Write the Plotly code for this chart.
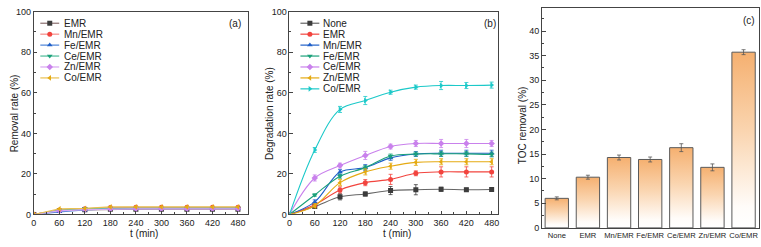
import plotly.graph_objects as go

# ---------------- data ----------------
t = [0, 60, 120, 180, 240, 300, 360, 420, 480]
xticks = [0, 60, 120, 180, 240, 300, 360, 420, 480]

# panel (a) removal rate (%)
a_names = ["EMR", "Mn/EMR", "Fe/EMR", "Ce/EMR", "Zn/EMR", "Co/EMR"]
a_emr = [0, 1.9, 2.3, 2.6, 2.6, 2.6, 2.6, 2.6, 2.6]
a_mn = [0, 2.1, 2.8, 3.4, 3.5, 3.5, 3.5, 3.5, 3.5]
a_fe = [0, 1.3, 2.2, 2.8, 2.9, 3.0, 3.0, 3.0, 3.0]
a_ce = [0, 2.0, 2.9, 3.2, 3.2, 3.2, 3.2, 3.2, 3.2]
a_zn = [0, 1.8, 2.4, 2.7, 2.8, 2.8, 2.8, 2.8, 2.8]
a_co = [0, 2.8, 3.0, 3.7, 3.7, 3.7, 3.7, 3.7, 3.7]

# panel (b) degradation rate (%)
b_names = ["None", "EMR", "Mn/EMR", "Fe/EMR", "Ce/EMR", "Zn/EMR", "Co/EMR"]
b_none = [0, 3.9, 8.7, 10.1, 11.8, 12.2, 12.4, 12.2, 12.3]
b_emr = [0, 4.8, 12.1, 15.7, 17.3, 20.3, 21.0, 21.0, 21.0]
b_mn = [0, 6.2, 20.9, 23.1, 27.9, 29.8, 30.2, 30.2, 30.2]
b_fe = [0, 9.6, 18.9, 23.1, 28.8, 29.8, 29.9, 29.9, 29.6]
b_ce = [0, 18.0, 24.1, 29.1, 33.5, 35.0, 35.0, 35.0, 35.0]
b_zn = [0, 4.3, 15.7, 21.0, 23.8, 25.7, 26.0, 26.0, 26.0]
b_co = [0, 31.8, 51.8, 56.2, 60.3, 62.8, 63.6, 63.6, 63.8]
e_none = [0, 0.8, 1.5, 1.0, 2.0, 2.5, 1.0, 0.8, 0.8]
e_emr = [0, 0.8, 1.5, 1.5, 2.5, 1.2, 2.5, 2.5, 2.5]
e_mn = [0, 1.0, 1.2, 1.5, 1.2, 1.2, 1.5, 1.5, 1.5]
e_fe = [0, 0.6, 1.0, 1.0, 1.0, 1.0, 1.2, 1.2, 1.2]
e_ce = [0, 1.5, 1.2, 2.0, 1.2, 1.5, 2.0, 2.0, 1.5]
e_zn = [0, 1.0, 1.5, 1.5, 1.5, 1.5, 1.5, 1.5, 1.5]
e_co = [0, 1.2, 1.5, 2.0, 1.0, 1.0, 2.0, 1.5, 1.5]

# panel (c) TOC removal (%)
c_cats = ["None", "EMR", "Mn/EMR", "Fe/EMR", "Ce/EMR", "Zn/EMR", "Co/EMR"]
c_vals = [6.0, 10.3, 14.3, 13.9, 16.3, 12.3, 35.7]
c_errs = [0.3, 0.4, 0.5, 0.5, 0.8, 0.7, 0.5]

# ---------------- styles ----------------
FONT = "Liberation Sans Narrow, Arial Narrow, Liberation Sans, Arial, sans-serif"
W, H = 761, 247
BLACK = "#3c3c3c"; RED = "#f2443e"; BLUE = "#2060c8"; GREEN = "#1ba17a"
VIOLET = "#c981ec"; GOLD = "#e5aa12"; CYAN = "#1cc9c9"
a_styles = [(BLACK, "#8a6f6f", "square"), (RED, "#f58a86", "circle"),
            (BLUE, "#4d84d8", "triangle-up"), (GREEN, "#4dbb98", "triangle-down"),
            (VIOLET, "#d9a6f2", "diamond"), (GOLD, "#e9c050", "triangle-left")]
b_styles = [(BLACK, "#666666", "square"), (RED, RED, "circle"),
            (BLUE, BLUE, "triangle-up"), (GREEN, GREEN, "triangle-down"),
            (VIOLET, VIOLET, "diamond"), (GOLD, GOLD, "triangle-left"),
            (CYAN, CYAN, "triangle-right")]

def px_dom_x(p0, p1):
    return [p0 / W, p1 / W]

def px_dom_y(top, bottom):
    return [1 - bottom / H, 1 - top / H]

fig = go.Figure()

# panel (a)
for name, ys, (mc, lc, sym) in zip(a_names, [a_emr, a_mn, a_fe, a_ce, a_zn, a_co], a_styles):
    fig.add_trace(go.Scatter(x=t, y=ys, mode="lines+markers", name=name, showlegend=False,
                             line=dict(color=lc, width=1.2),
                             marker=dict(symbol=sym, size=5, color=mc),
                             xaxis="x", yaxis="y"))

# panel (b)
for name, ys, es, (mc, lc, sym) in zip(b_names, [b_none, b_emr, b_mn, b_fe, b_ce, b_zn, b_co],
                                       [e_none, e_emr, e_mn, e_fe, e_ce, e_zn, e_co], b_styles):
    fig.add_trace(go.Scatter(x=t, y=ys, mode="lines+markers", name=name, showlegend=False,
                             line=dict(color=lc, width=1.1, shape="spline", smoothing=1.0),
                             marker=dict(symbol=sym, size=5, color=mc),
                             error_y=dict(type="data", array=es, color=mc, thickness=0.8, width=2),
                             xaxis="x2", yaxis="y2"))

# panel (c): bars with vertical gradient
bw = 0.75
for i, (cat, v) in enumerate(zip(c_cats, c_vals)):
    xs = [i - bw / 2, i + bw / 2, i + bw / 2, i - bw / 2, i - bw / 2]
    ys = [0, 0, v, v, 0]
    fig.add_trace(go.Scatter(x=xs, y=ys, mode="lines", fill="toself", name=cat, showlegend=False,
                             line=dict(color="#5a5a5a", width=1),
                             fillgradient=dict(type="vertical",
                                               colorscale=[[0, "#ffffff"], [0.12, "#fffcf9"],
                                                           [0.55, "#fad5b0"], [1, "#f5b070"]]),
                             hoverinfo="skip", xaxis="x3", yaxis="y3"))
fig.add_trace(go.Scatter(x=list(range(len(c_cats))), y=c_vals, mode="markers", showlegend=False,
                         marker=dict(size=1, color="rgba(0,0,0,0)"),
                         error_y=dict(type="data", array=c_errs, color="#555555", thickness=0.8, width=2),
                         xaxis="x3", yaxis="y3"))

# legend keys (paper pixel overlay axis)
def legend(names, styles, x0, x1, xt, y0, dy):
    for k, (name, (mc, lc, sym)) in enumerate(zip(names, styles)):
        py = y0 + dy * k
        fig.add_trace(go.Scatter(x=[x0, x1], y=[py, py], mode="lines", showlegend=False,
                                 line=dict(color=lc, width=1.2), hoverinfo="skip",
                                 xaxis="x4", yaxis="y4"))
        fig.add_trace(go.Scatter(x=[(x0 + x1) / 2], y=[py], mode="markers", showlegend=False,
                                 marker=dict(symbol=sym, size=5, color=mc), hoverinfo="skip",
                                 xaxis="x4", yaxis="y4"))
        fig.add_annotation(x=xt / W, y=1 - py / H, xref="paper", yref="paper", text=name,
                           showarrow=False, xanchor="left", yanchor="middle",
                           font=dict(size=10, color="#222", family=FONT))

legend(a_names, a_styles, 37.5, 56.5, 59.5, 19, 11.4)
legend(b_names, b_styles, 299, 318, 320, 19, 11.4)

axis_common = dict(showline=True, linecolor="#444", linewidth=1, mirror=True,
                   ticks="inside", ticklen=3.5, tickwidth=1, tickcolor="#444",
                   showgrid=False, zeroline=False,
                   tickfont=dict(size=9, color="#222", family=FONT))

layout = dict(
    width=W, height=H, margin=dict(l=0, r=0, t=0, b=0),
    paper_bgcolor="white", plot_bgcolor="rgba(0,0,0,0)",
    font=dict(family=FONT, color="#222"),
    xaxis=dict(domain=px_dom_x(31, 246), range=[0, 503], tickvals=xticks,
               minor=dict(ticks="inside", ticklen=2, tickwidth=1, tickcolor="#444", dtick=30),
               anchor="y", **axis_common),
    yaxis=dict(domain=px_dom_y(7, 218.3), range=[0, 100], dtick=20,
               minor=dict(ticks="inside", ticklen=2, tickwidth=1, tickcolor="#444", dtick=10),
               anchor="x", **axis_common),
    xaxis2=dict(domain=px_dom_x(288, 498), range=[0, 496], tickvals=xticks,
                minor=dict(ticks="inside", ticklen=2, tickwidth=1, tickcolor="#444", dtick=30),
                anchor="y2", **axis_common),
    yaxis2=dict(domain=px_dom_y(7, 218.3), range=[0, 100], dtick=20,
                minor=dict(ticks="inside", ticklen=2, tickwidth=1, tickcolor="#444", dtick=10),
                anchor="x2", **axis_common),
    xaxis3=dict(domain=px_dom_x(542, 759.5), range=[-0.47, 6.48],
                tickvals=list(range(len(c_cats))), ticktext=c_cats, tickangle=0,
                anchor="y3", **{**axis_common, "ticks": "",
                                "tickfont": dict(size=7.6, color="#222", family=FONT)}),
    yaxis3=dict(domain=px_dom_y(3, 232.3), range=[0, 44.7], dtick=5,
                minor=dict(ticks="inside", ticklen=2, tickwidth=1, tickcolor="#444", dtick=2.5),
                anchor="x3", **axis_common),
    xaxis4=dict(domain=[0, 1], range=[0, W], visible=False, anchor="y4", fixedrange=True),
    yaxis4=dict(domain=[0, 1], range=[H, 0], visible=False, anchor="x4", fixedrange=True),
)
fig.update_layout(**layout)

def ann(text, px, py, size=10, angle=0):
    fig.add_annotation(x=px / W, y=1 - py / H, xref="paper", yref="paper", text=text,
                       showarrow=False, textangle=angle, xanchor="center", yanchor="middle",
                       font=dict(size=size, color="#222", family=FONT))

ann("(a)", 233, 19, 10)
ann("(b)", 490, 19, 10)
ann("(c)", 750, 16, 10)
ann("Removal rate (%)", 11, 113, 10, -90)
ann("Degradation rate (%)", 268, 113, 10, -90)
ann("TOC removal (%)", 523, 125, 10, -90)
ann("t (min)", 142, 238, 10)
ann("t (min)", 396, 238, 10)

fig.write_html("out.html", config={"displayModeBar": False},
               post_script="document.body.style.margin='0';")
